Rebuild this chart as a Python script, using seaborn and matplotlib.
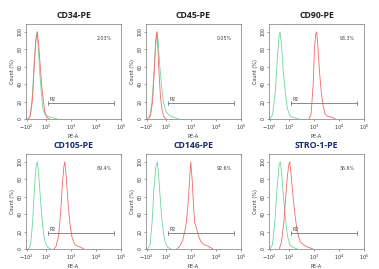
import matplotlib
matplotlib.use("Agg")
import matplotlib.pyplot as plt
import seaborn as sns
import pandas as pd

sns.set_theme(style="white")
plt.rcParams['font.family'] = ['DejaVu Sans']

# ---------------- data (PE-A value, Count %) ----------------
titles = ["CD34-PE", "CD45-PE", "CD90-PE", "CD105-PE", "CD146-PE", "STRO-1-PE"]
percent_labels = ["2.03%", "0.05%", "93.3%", "89.4%", "92.6%", "36.6%"]

cd34_iso_x = [-83, -60, -40, -20, 0, 7, 20, 33, 50, 67, 90, 116, 156, 280]
cd34_iso_y = [0, 5, 30, 70, 97, 100, 80, 55, 30, 12, 5, 3, 2, 0]
cd34_pe_x = [-93, -67, -43, -23, -7, 10, 23, 40, 57, 73, 87, 106, 134]
cd34_pe_y = [0, 2, 20, 60, 90, 100, 85, 60, 35, 20, 8, 2, 0]

cd45_iso_x = [-90, -70, -50, -30, -12, 0, 8, 20, 35, 55, 75, 100, 140, 200, 325]
cd45_iso_y = [0, 3, 15, 45, 80, 95, 100, 85, 60, 35, 18, 8, 4, 2, 0]
cd45_pe_x = [-85, -60, -40, -22, -8, 4, 15, 28, 42, 58, 75, 100]
cd45_pe_y = [0, 4, 20, 55, 88, 100, 80, 50, 25, 10, 3, 0]

cd90_iso_x = [-100, -71, -43, -21, -4, 7, 21, 39, 61, 82, 106, 140, 245]
cd90_iso_y = [0, 5, 30, 70, 95, 100, 85, 55, 30, 12, 4, 2, 0]
cd90_pe_x = [620, 755, 920, 1030, 1150, 1270, 1400, 1640, 1950, 2300, 2720, 3500, 5300, 7000]
cd90_pe_y = [0, 5, 40, 80, 97, 100, 85, 55, 30, 15, 6, 3, 2, 0]

cd105_iso_x = [-83, -60, -40, -20, -3, 10, 23, 40, 57, 73, 90, 115, 154]
cd105_iso_y = [0, 5, 30, 70, 95, 100, 85, 60, 35, 18, 8, 2, 0]
cd105_pe_x = [205, 250, 316, 376, 450, 515, 560, 630, 745, 890, 1060, 1260, 1580, 2370, 3300]
cd105_pe_y = [0, 3, 15, 40, 75, 95, 100, 85, 55, 30, 15, 8, 4, 2, 0]

cd146_iso_x = [-90, -65, -45, -25, -5, 9, 22, 38, 55, 72, 90, 115, 160]
cd146_iso_y = [0, 5, 30, 70, 95, 100, 85, 60, 35, 18, 8, 2, 0]
cd146_pe_x = [264, 350, 460, 610, 750, 870, 970, 1100, 1250, 1400, 1600, 2000, 2500,
              3300, 4300, 5700, 7500]
cd146_pe_y = [0, 3, 10, 25, 50, 80, 100, 80, 50, 30, 25, 15, 8, 5, 4, 2, 0]

stro1_iso_x = [-100, -72, -45, -24, -3, 10, 24, 41, 62, 83, 106, 140, 210]
stro1_iso_y = [0, 5, 35, 70, 97, 100, 85, 60, 35, 15, 5, 2, 0]
stro1_pe_x = [-2, 21, 45, 65, 83, 97, 106, 120, 143, 170, 200, 235, 280, 370, 570, 900]
stro1_pe_y = [0, 8, 30, 60, 85, 97, 100, 85, 60, 40, 25, 15, 8, 5, 2, 0]

iso_x = [cd34_iso_x, cd45_iso_x, cd90_iso_x, cd105_iso_x, cd146_iso_x, stro1_iso_x]
iso_y = [cd34_iso_y, cd45_iso_y, cd90_iso_y, cd105_iso_y, cd146_iso_y, stro1_iso_y]
pe_x = [cd34_pe_x, cd45_pe_x, cd90_pe_x, cd105_pe_x, cd146_pe_x, stro1_pe_x]
pe_y = [cd34_pe_y, cd45_pe_y, cd90_pe_y, cd105_pe_y, cd146_pe_y, stro1_pe_y]

gate_x = [116, 52000]
gate_y = 18

x_ticks = [-100, 100, 1000, 10000, 100000]
x_tick_labels = [r"$-10^2$", r"$10^2$", r"$10^3$", r"$10^4$", r"$10^5$"]
y_ticks = [0, 20, 40, 60, 80, 100]

# ---------------- layout ----------------
W, H = 379, 269
fig = plt.figure(figsize=(W / 100, H / 100), dpi=100)
lefts = [26, 146, 269]
row_top = [24, 154]
ax_w, ax_h = 95, 95

green = "#6fd6a0"
red = "#f06a6a"
title_colors = ["#222222", "#222222", "#222222", "#1b2a6b", "#1b2a6b", "#1b2a6b"]

for i in range(6):
    r, c = divmod(i, 3)
    l = lefts[c] / W
    b = 1 - (row_top[r] + ax_h) / H
    ax = fig.add_axes([l, b, ax_w / W, ax_h / H])
    ax.set_facecolor("white")
    df_iso = pd.DataFrame({"x": iso_x[i], "y": iso_y[i]})
    df_pe = pd.DataFrame({"x": pe_x[i], "y": pe_y[i]})
    sns.lineplot(data=df_iso, x="x", y="y", ax=ax, color=green, lw=0.6, sort=False)
    sns.lineplot(data=df_pe, x="x", y="y", ax=ax, color=red, lw=0.6, sort=False)
    ax.set_xscale("symlog", linthresh=100, linscale=0.35)
    ax.set_xlim(-107, 100000)
    ax.set_ylim(0, 109)
    ax.set_xticks(x_ticks)
    ax.set_xticklabels(x_tick_labels, fontsize=3.6, color="#333333")
    ax.xaxis.set_minor_locator(matplotlib.ticker.NullLocator())
    ax.set_yticks(y_ticks)
    ax.set_yticklabels([str(v) for v in y_ticks], fontsize=3.4, rotation=90,
                       va="center", color="#333333")
    ax.tick_params(axis="both", length=1.5, width=0.4, pad=1, color="#555555",
                   bottom=True, left=True)
    for s in ax.spines.values():
        s.set_color("#777777")
        s.set_linewidth(0.5)
    ax.set_xlabel("PE-A", fontsize=3.6, labelpad=1.5, color="#333333")
    ax.set_ylabel("Count (%)", fontsize=3.6, labelpad=1.5, color="#333333")
    ax.set_title(titles[i], fontsize=6.3, fontweight="bold", family="Open Sans",
                 color=title_colors[i], pad=4.5)
    # gate P2
    ax.plot(gate_x, [gate_y, gate_y], color="#777777", lw=0.6)
    for gx in gate_x:
        ax.plot([gx, gx], [gate_y - 2.2, gate_y + 2.2], color="#777777", lw=0.6)
    ax.text(gate_x[0] * 1.15, gate_y + 1.5, "P2", fontsize=3.6, color="#333333",
            ha="left", va="bottom")
    ax.text(0.82, 0.85, percent_labels[i], transform=ax.transAxes, fontsize=3.4,
            color="#444444", ha="center", va="center")

fig.savefig("out.png", dpi=100, facecolor="white")
